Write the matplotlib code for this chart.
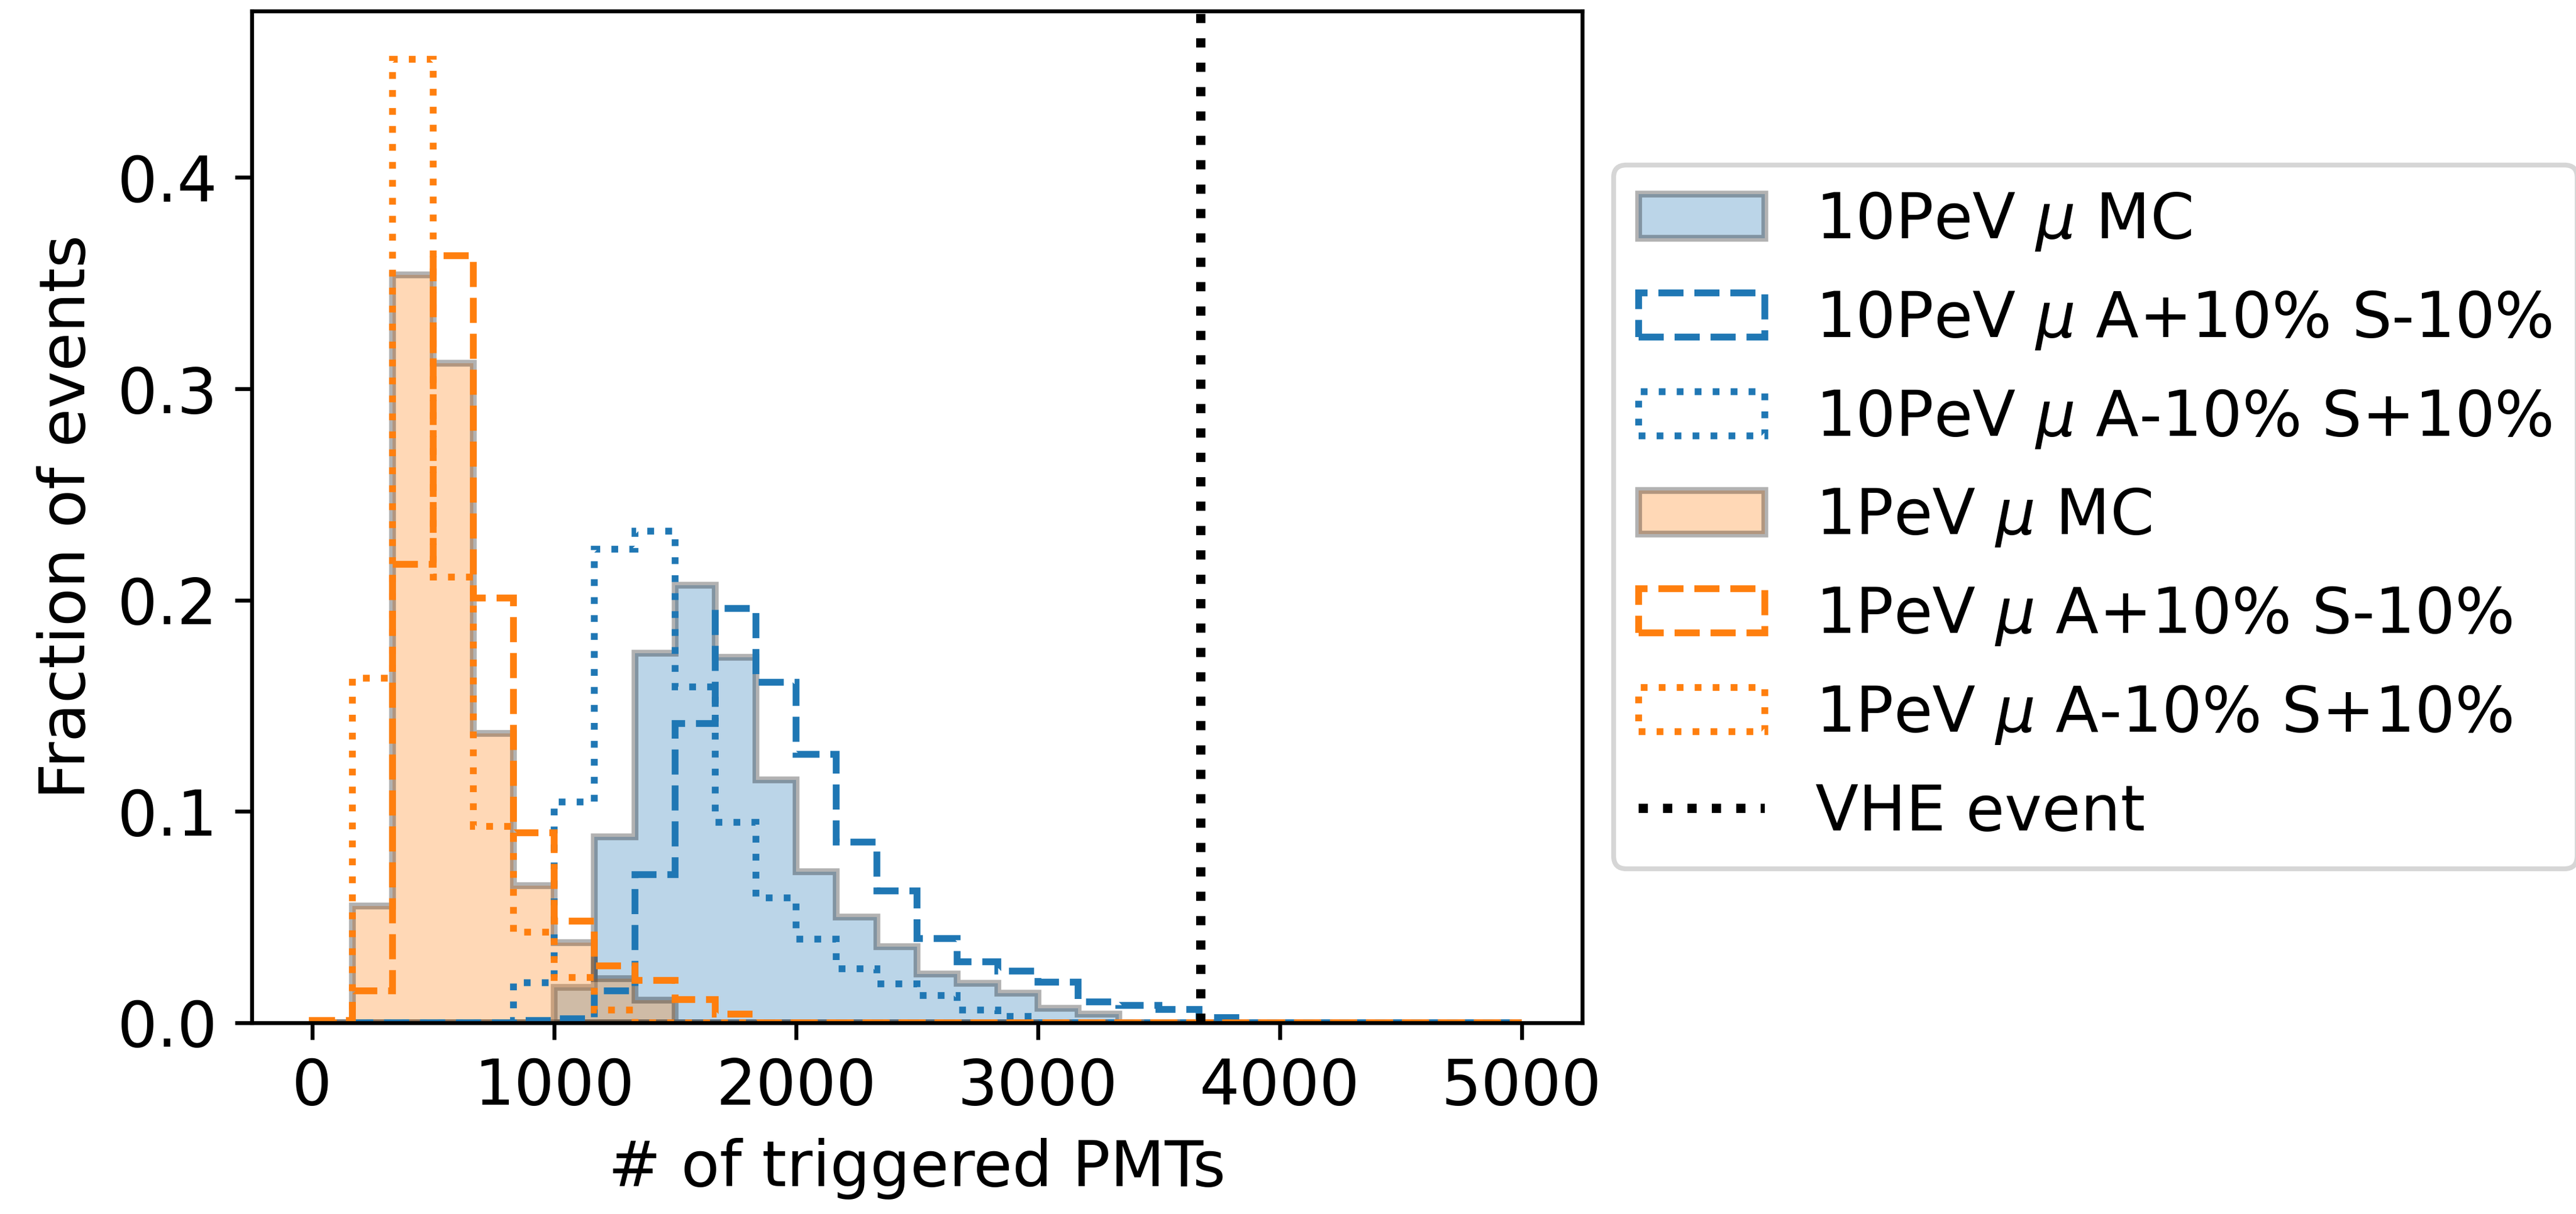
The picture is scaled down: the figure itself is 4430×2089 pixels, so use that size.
import numpy as np
import matplotlib
matplotlib.use('Agg')
import matplotlib.pyplot as plt

# 30 bins from 0 to 5000 triggered PMTs, values = fraction of events per bin
edges = np.linspace(0, 5000, 31)
centers = 0.5 * (edges[:-1] + edges[1:])

mc_10pev = [0, 0, 0, 0, 0, 0, 0.0167, 0.088, 0.175, 0.207, 0.173, 0.115, 0.0716,
            0.050, 0.036, 0.0232, 0.0188, 0.014, 0.007, 0.004, 0, 0, 0, 0, 0, 0, 0, 0, 0, 0]
ap_10pev = [0, 0, 0, 0, 0, 0.001, 0.002, 0.015, 0.070, 0.1415, 0.196, 0.161, 0.127,
            0.0856, 0.0624, 0.040, 0.029, 0.0246, 0.0193, 0.010, 0.0083, 0.0062, 0.0026,
            0, 0, 0, 0, 0, 0, 0]
am_10pev = [0, 0, 0, 0, 0, 0.019, 0.1046, 0.224, 0.2326, 0.159, 0.095, 0.059, 0.0396,
            0.0255, 0.0185, 0.013, 0.006, 0.003, 0, 0, 0, 0, 0, 0, 0, 0, 0, 0, 0, 0]
mc_1pev = [0, 0.0554, 0.354, 0.312, 0.137, 0.065, 0.038, 0.021, 0.0106, 0, 0, 0, 0,
           0, 0, 0, 0, 0, 0, 0, 0, 0, 0, 0, 0, 0, 0, 0, 0, 0]
ap_1pev = [0.001, 0.015, 0.217, 0.363, 0.201, 0.090, 0.048, 0.027, 0.020, 0.011, 0.004,
           0, 0, 0, 0, 0, 0, 0, 0, 0, 0, 0, 0, 0, 0, 0, 0, 0, 0, 0]
am_1pev = [0, 0.163, 0.456, 0.211, 0.093, 0.043, 0.0215, 0.006, 0, 0, 0, 0, 0,
           0, 0, 0, 0, 0, 0, 0, 0, 0, 0, 0, 0, 0, 0, 0, 0, 0]
vhe_event = 3673

plt.rcParams['font.size'] = 13

fig = plt.figure(figsize=(4430 / 600, 2089 / 600), dpi=600)
ax = fig.add_axes([0.0977, 0.1575, 0.5165, 0.8335])

lw = 1.4
ax.hist(centers, bins=edges, weights=mc_10pev, histtype='stepfilled', color='C0',
        alpha=0.3, ec='k', lw=lw, label=r'10PeV $\mu$ MC')
ax.hist(centers, bins=edges, weights=ap_10pev, histtype='step', color='C0',
        ls='--', lw=lw, label=r'10PeV $\mu$ A+10% S-10%')
ax.hist(centers, bins=edges, weights=am_10pev, histtype='step', color='C0',
        ls=':', lw=lw, label=r'10PeV $\mu$ A-10% S+10%')
ax.hist(centers, bins=edges, weights=mc_1pev, histtype='stepfilled', color='C1',
        alpha=0.3, ec='k', lw=lw, label=r'1PeV $\mu$ MC')
ax.hist(centers, bins=edges, weights=ap_1pev, histtype='step', color='C1',
        ls='--', lw=lw, label=r'1PeV $\mu$ A+10% S-10%')
ax.hist(centers, bins=edges, weights=am_1pev, histtype='step', color='C1',
        ls=':', lw=lw, label=r'1PeV $\mu$ A-10% S+10%')
ax.axvline(vhe_event, color='k', ls=':', lw=1.9, label='VHE event')

ax.set_xlabel('# of triggered PMTs')
ax.set_ylabel('Fraction of events')
ax.legend(loc='center left', bbox_to_anchor=(1, 0.5), labelspacing=0.57)

fig.savefig('out.png', dpi=600)
